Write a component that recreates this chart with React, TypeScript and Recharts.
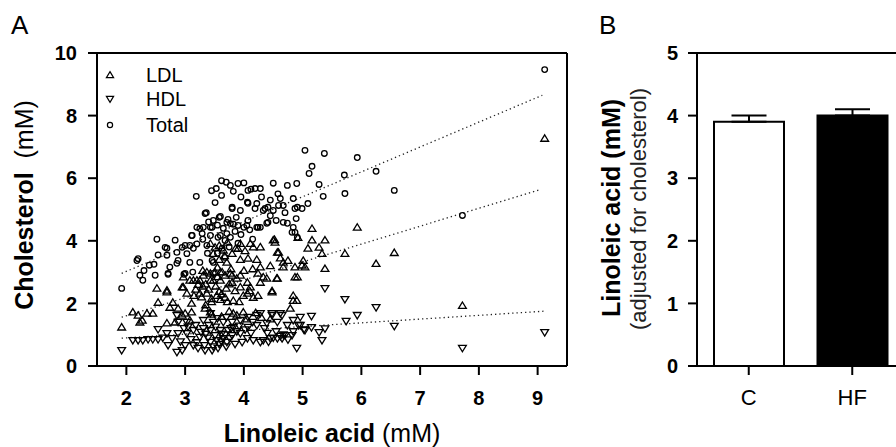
import React from 'react';
import {
  ScatterChart, Scatter, XAxis, YAxis, ReferenceLine,
  BarChart, Bar, Cell, ErrorBar,
} from 'recharts';

// ---------- Panel A data (Linoleic acid mM, Cholesterol mM) ----------
const totalPoints: [number, number][] = [
  [1.92,2.48],[2.18,3.37],[2.28,2.74],[2.23,2.90],[2.39,3.22],[2.49,2.90],[2.52,4.05],[2.54,3.55],
  [2.69,3.76],[2.83,4.02],[2.71,2.93],[2.86,3.28],[2.95,3.79],[3.03,3.59],[2.98,2.93],[3.08,3.85],
  [3.11,4.17],[3.13,3.00],[3.25,3.31],[3.20,4.43],[3.29,4.23],[3.37,3.85],[3.46,4.43],[3.48,3.31],
  [3.60,4.17],[3.63,3.76],[3.77,4.11],[3.82,4.53],[3.90,3.92],[4.05,4.49],[4.22,4.43],[4.74,4.56],
  [4.82,4.27],[3.48,2.96],[3.19,5.42],[3.53,5.67],[3.70,5.87],[3.82,5.58],[3.90,5.83],[3.77,5.77],
  [4.07,5.61],[4.19,5.67],[4.28,5.67],[3.51,5.22],[3.36,4.90],[3.60,4.78],[3.80,5.03],[3.94,4.97],
  [4.06,5.23],[4.22,5.19],[4.36,5.03],[4.50,4.97],[4.62,5.35],[4.67,5.13],[4.84,5.35],[4.87,5.03],
  [4.99,5.03],[5.09,5.19],[4.67,4.59],[4.89,4.71],[3.31,4.43],[3.48,4.65],[3.71,4.59],[4.24,4.43],
  [4.39,4.56],[5.04,6.89],[5.37,6.79],[5.93,6.66],[5.16,6.38],[5.11,6.15],[5.71,6.10],[6.25,6.22],
  [6.56,5.61],[5.72,5.51],[5.35,5.42],[5.28,5.80],[4.90,5.83],[4.74,5.77],[4.50,5.84],[3.80,5.07],
  [4.07,5.20],[4.41,5.07],[4.59,5.13],[4.91,5.07],[3.34,4.87],[3.77,4.55],[3.90,4.49],[4.28,4.43],
  [4.41,4.59],[4.84,4.43],[4.87,4.27],[4.91,4.11],[3.43,4.43],[3.12,4.17],[3.43,4.17],[3.56,4.11],
  [3.68,4.01],[3.00,3.85],[2.66,3.79],[2.86,3.63],[3.14,3.76],[2.69,3.54],[2.88,3.37],[3.08,3.31],
  [3.46,3.37],[3.68,3.47],[2.74,3.16],[2.71,2.96],[3.00,2.96],[2.20,3.43],[4.19,5.03],[3.58,4.75],
  [3.73,4.68],[3.87,4.75],[4.00,4.43],[3.25,4.39],[4.07,4.65],[3.71,4.23],[4.33,4.97],[4.12,5.65],
  [2.30,3.05],[2.47,3.25],[3.40,4.60],[3.55,4.50],[3.65,4.40],[3.85,4.30],[3.95,4.20],[4.10,4.35],
  [4.15,4.05],[3.30,4.05],[3.20,3.90],[3.38,3.60],[3.55,3.60],[3.75,3.80],[4.45,4.80],[4.55,4.65],
  [4.70,4.90],[4.58,5.50],[4.45,5.30],[4.30,5.40],[3.95,5.40],[3.62,5.45],[4.00,5.85],[3.62,5.92],
  [3.45,5.60],[7.72,4.81],[9.12,9.47],
];

const ldlPoints: [number, number][] = [
  [1.92,1.24],[2.11,1.72],[2.20,1.62],[2.27,1.46],[2.35,1.68],[2.45,1.68],[2.54,2.03],[2.52,2.48],
  [2.69,2.36],[2.74,1.87],[2.79,2.03],[2.88,1.84],[2.95,1.62],[3.00,1.68],[3.08,1.46],[3.11,1.72],
  [2.95,2.52],[3.03,2.32],[2.97,2.84],[3.08,2.74],[3.20,2.74],[3.31,2.90],[3.43,2.96],[3.48,2.74],
  [3.60,3.00],[3.77,2.96],[3.94,2.90],[4.06,2.67],[3.25,2.32],[3.37,2.32],[3.54,2.25],[3.68,2.19],
  [3.82,2.09],[3.99,2.25],[4.16,2.19],[3.11,2.00],[2.23,1.40],[2.69,1.37],[2.83,1.40],[3.34,1.84],
  [3.43,1.72],[3.82,1.68],[3.99,1.72],[4.48,2.36],[4.84,2.25],[4.84,2.09],[4.79,1.84],[4.53,3.95],
  [4.28,3.80],[4.11,3.91],[3.94,3.91],[3.86,3.76],[3.80,3.59],[3.51,3.79],[3.48,3.59],[3.71,3.31],
  [3.94,3.40],[4.07,3.44],[4.22,3.40],[4.28,3.16],[4.57,3.63],[4.75,3.37],[4.67,3.16],[4.87,3.16],
  [5.01,3.37],[5.04,3.16],[4.91,2.84],[4.57,2.80],[4.33,2.84],[4.24,2.96],[3.80,2.90],[3.63,3.00],
  [3.51,3.00],[3.37,3.00],[3.25,2.74],[3.14,2.74],[3.43,2.74],[3.60,2.74],[3.80,2.67],[3.94,2.52],
  [4.11,2.52],[2.97,2.52],[2.69,2.42],[5.09,3.76],[5.16,4.39],[5.93,4.43],[4.50,4.02],[5.16,4.02],
  [5.38,4.02],[5.28,3.79],[5.33,3.59],[5.72,3.59],[6.56,3.62],[6.25,3.27],[5.38,3.11],[4.59,3.63],
  [4.67,3.31],[4.48,2.40],[4.39,2.80],[4.28,2.67],[4.06,2.32],[4.24,2.25],[4.99,3.22],[4.92,4.10],
  [4.52,4.04],[4.56,2.80],[4.87,2.84],[4.90,2.09],[3.43,3.91],[3.65,3.70],[3.90,3.75],[4.02,3.68],
  [4.16,3.80],[3.28,2.20],[3.45,2.15],[3.62,2.30],[3.72,2.05],[3.15,2.25],[3.45,1.65],[3.62,1.58],
  [3.75,1.75],[3.88,1.62],[4.20,1.70],[4.30,1.55],[4.45,1.50],[4.05,1.50],[3.18,2.45],[3.30,2.55],
  [3.40,2.45],[3.52,2.55],[3.58,2.38],[3.70,2.48],[3.75,2.62],[3.85,2.40],[3.88,2.80],[3.55,2.85],
  [3.35,2.62],[3.22,2.60],[3.68,2.90],[3.30,3.05],[3.55,3.15],[3.78,3.10],[4.00,3.05],[4.15,3.10],
  [3.45,2.05],[3.60,2.12],[3.35,1.95],[3.92,2.05],[4.10,2.40],[4.45,3.20],[4.62,3.45],[3.58,3.85],
  [3.72,3.95],[3.67,3.52],[3.58,3.40],[7.72,1.93],[9.12,7.27],
];

const hdlPoints: [number, number][] = [
  [1.92,0.50],[2.11,0.82],[2.20,0.82],[2.28,0.82],[2.37,0.85],[2.45,0.85],[2.54,0.85],[2.54,1.17],
  [2.71,0.66],[2.69,1.04],[2.86,0.44],[2.95,0.50],[3.00,0.66],[2.88,1.04],[3.03,1.04],[3.14,0.66],
  [3.22,0.57],[3.34,0.50],[3.46,0.50],[3.56,0.57],[3.43,0.76],[3.54,0.82],[3.65,0.88],[3.71,0.76],
  [3.25,0.92],[3.14,1.14],[3.31,1.20],[3.43,1.14],[3.60,1.14],[3.73,1.14],[3.31,1.46],[3.48,1.40],
  [3.65,1.40],[3.80,1.40],[3.43,1.68],[3.94,1.04],[4.06,0.88],[4.16,0.82],[4.33,0.82],[4.45,0.88],
  [4.57,0.88],[4.65,0.88],[4.70,0.98],[4.07,1.24],[4.22,1.30],[4.39,1.37],[4.57,1.40],[4.74,1.30],
  [4.07,1.56],[4.22,1.62],[4.48,1.68],[4.62,1.68],[4.90,0.57],[4.82,0.98],[4.93,1.30],[5.04,1.14],
  [4.96,1.56],[3.94,1.46],[3.03,1.40],[2.88,1.40],[2.86,1.62],[3.82,1.24],[3.51,0.98],[3.80,0.98],
  [3.97,0.76],[4.28,0.76],[5.38,2.48],[5.72,2.13],[5.93,1.62],[6.25,1.87],[6.56,1.27],[5.74,1.43],
  [5.33,0.82],[5.15,1.59],[5.28,1.07],[5.38,1.19],[5.02,1.16],[5.15,1.23],[4.84,1.10],[4.67,1.00],
  [4.65,1.62],[4.48,1.62],[4.28,1.68],[4.84,1.46],[4.96,1.30],[4.50,0.90],[4.42,0.77],[3.70,0.62],
  [3.85,0.70],[3.62,1.02],[3.35,1.02],[2.62,0.90],[2.78,0.88],[3.10,0.85],[3.92,1.28],[4.12,1.05],
  [3.05,1.25],[3.18,1.30],[3.27,1.08],[3.39,0.90],[3.52,1.25],[3.58,0.70],[3.68,1.00],[3.76,0.88],
  [3.88,1.10],[3.20,0.75],[3.40,1.30],[3.55,1.52],[3.70,1.55],[3.78,1.20],[3.48,0.62],[3.62,0.78],
  [3.33,0.66],[4.02,1.16],[4.15,1.40],[4.35,1.20],[4.55,1.10],[4.40,1.05],[4.62,0.95],[4.75,0.84],
  [2.98,1.20],[2.92,0.78],[7.72,0.57],[9.12,1.07],
];

// Dotted regression lines (start and end points)
const totalTrend: [number, number][] = [[1.92, 2.96], [9.08, 8.65]];
const ldlTrend: [number, number][] = [[1.92, 1.56], [9.05, 5.64]];
const hdlTrend: [number, number][] = [[1.92, 0.89], [9.10, 1.75]];

const xTicksA = [2, 3, 4, 5, 6, 7, 8, 9];
const yTicksA = [0, 2, 4, 6, 8, 10];

// ---------- Panel B data ----------
const groups = ['C', 'HF'];
const groupMeans = [3.9, 4.0];
const groupSem = [0.1, 0.1];
const groupFills = ['#ffffff', '#000000'];
const yTicksB = [0, 1, 2, 3, 4, 5];

const toXY = (pts: [number, number][]) => pts.map(([x, y]) => ({ x, y }));
const totalData = toXY(totalPoints);
const ldlData = toXY(ldlPoints);
const hdlData = toXY(hdlPoints);
const barData = groups.map((name, i) => ({ name, value: groupMeans[i], err: [0, groupSem[i]] }));

const FONT = '"Liberation Sans", Arial, Helvetica, sans-serif';
const axisStroke = { stroke: '#000', strokeWidth: 2 };
const MK = 1.3;

const TriUp = (p: any) => {
  const { cx, cy } = p;
  if (cx == null || cy == null) return <g />;
  return <path d={`M${cx},${cy - 3.6}L${cx + 3.9},${cy + 2.8}L${cx - 3.9},${cy + 2.8}Z`} fill="none" stroke="#000" strokeWidth={MK} />;
};
const TriDown = (p: any) => {
  const { cx, cy } = p;
  if (cx == null || cy == null) return <g />;
  return <path d={`M${cx},${cy + 3.6}L${cx + 3.9},${cy - 2.8}L${cx - 3.9},${cy - 2.8}Z`} fill="none" stroke="#000" strokeWidth={MK} />;
};
const Circ = (p: any) => {
  const { cx, cy } = p;
  if (cx == null || cy == null) return <g />;
  return <circle cx={cx} cy={cy} r={2.8} fill="none" stroke="#000" strokeWidth={MK} />;
};

const trendProps = { stroke: '#222', strokeWidth: 1.3, strokeDasharray: '1.3 3' };
const seg = (t: [number, number][]) => t.map(([x, y]) => ({ x, y }));

export default function App() {
  return (
    <div style={{ position: 'fixed', left: 0, top: 0, width: 896, height: 447, overflow: 'hidden', background: '#fff', fontFamily: FONT }}>
      <div style={{ position: 'absolute', left: 0, top: 0 }}>
        <ScatterChart width={600} height={447} margin={{ top: 53, right: 33, bottom: 21, left: 37 }}>
          <XAxis
            type="number" dataKey="x" domain={[1.5, 9.5]} ticks={xTicksA} height={60}
            tickSize={9} tickMargin={16} axisLine={axisStroke} tickLine={axisStroke}
            tick={{ fontSize: 20, fontWeight: 'bold', fill: '#000', fontFamily: FONT }}
            allowDataOverflow
          />
          <YAxis
            type="number" dataKey="y" domain={[0, 10]} ticks={yTicksA} width={60}
            tickSize={9} tickMargin={11} axisLine={axisStroke} tickLine={axisStroke}
            tick={{ fontSize: 20, fontWeight: 'bold', fill: '#000', fontFamily: FONT }}
            allowDataOverflow
          />
          <ReferenceLine y={10} stroke="#000" strokeWidth={2} />
          <ReferenceLine x={9.5} stroke="#000" strokeWidth={2} />
          <ReferenceLine segment={seg(totalTrend)} {...trendProps} />
          <ReferenceLine segment={seg(ldlTrend)} {...trendProps} />
          <ReferenceLine segment={seg(hdlTrend)} {...trendProps} />
          <Scatter name="Total" data={totalData} shape={Circ} isAnimationActive={false} />
          <Scatter name="LDL" data={ldlData} shape={TriUp} isAnimationActive={false} />
          <Scatter name="HDL" data={hdlData} shape={TriDown} isAnimationActive={false} />
        </ScatterChart>
      </div>
      <div style={{ position: 'absolute', left: 560, top: 0 }}>
        <BarChart width={354} height={447} data={barData} margin={{ top: 53, right: 10, bottom: 21, left: 77 }}>
          <XAxis
            dataKey="name" height={60} tickSize={9} tickMargin={14}
            axisLine={axisStroke} tickLine={axisStroke}
            tick={{ fontSize: 22, fill: '#000', fontFamily: FONT }}
          />
          <YAxis
            type="number" domain={[0, 5]} ticks={yTicksB} width={60}
            tickSize={9} tickMargin={10} axisLine={axisStroke} tickLine={axisStroke}
            tick={{ fontSize: 20, fontWeight: 'bold', fill: '#000', fontFamily: FONT }}
          />
          <ReferenceLine y={5} stroke="#000" strokeWidth={2} />
          <Bar dataKey="value" barSize={70} stroke="#000" strokeWidth={2} isAnimationActive={false}>
            {barData.map((d, i) => <Cell key={d.name} fill={groupFills[i]} />)}
            <ErrorBar dataKey="err" direction="y" width={17.5} stroke="#000" strokeWidth={2} isAnimationActive={false} />
          </Bar>
        </BarChart>
      </div>
      <svg width={896} height={447} style={{ position: 'absolute', left: 0, top: 0, pointerEvents: 'none' }} fontFamily={FONT}>
        <text x={11} y={34} fontSize={26} fill="#000">A</text>
        <text x={599} y={34} fontSize={26} fill="#000">B</text>
        {/* legend */}
        <path d="M110,71.6L113.6,77.6L106.4,77.6Z" fill="none" stroke="#000" strokeWidth={1.2} />
        <path d="M110,102.4L113.6,96.4L106.4,96.4Z" fill="none" stroke="#000" strokeWidth={1.2} />
        <circle cx={110} cy={125} r={2.6} fill="none" stroke="#000" strokeWidth={1.2} />
        <text x={146} y={82} fontSize={20} fill="#000">LDL</text>
        <text x={146} y={106} fontSize={20} fill="#000">HDL</text>
        <text x={146} y={132} fontSize={20} fill="#000">Total</text>
        {/* axis titles */}
        <text x={332} y={442} fontSize={25} textAnchor="middle" fill="#000">
          <tspan fontWeight="bold">Linoleic acid</tspan><tspan> (mM)</tspan>
        </text>
        <text transform="translate(33,205) rotate(-90)" fontSize={25} textAnchor="middle" fill="#000" xmlSpace="preserve">
          <tspan fontWeight="bold">Cholesterol</tspan><tspan>  (mM)</tspan>
        </text>
        <text transform="translate(620,208) rotate(-90)" fontSize={25} fontWeight="bold" textAnchor="middle" fill="#000">
          Linoleic acid (mM)
        </text>
        <text transform="translate(646,209) rotate(-90)" fontSize={22} textAnchor="middle" fill="#222">
          (adjusted for cholesterol)
        </text>
      </svg>
    </div>
  );
}
